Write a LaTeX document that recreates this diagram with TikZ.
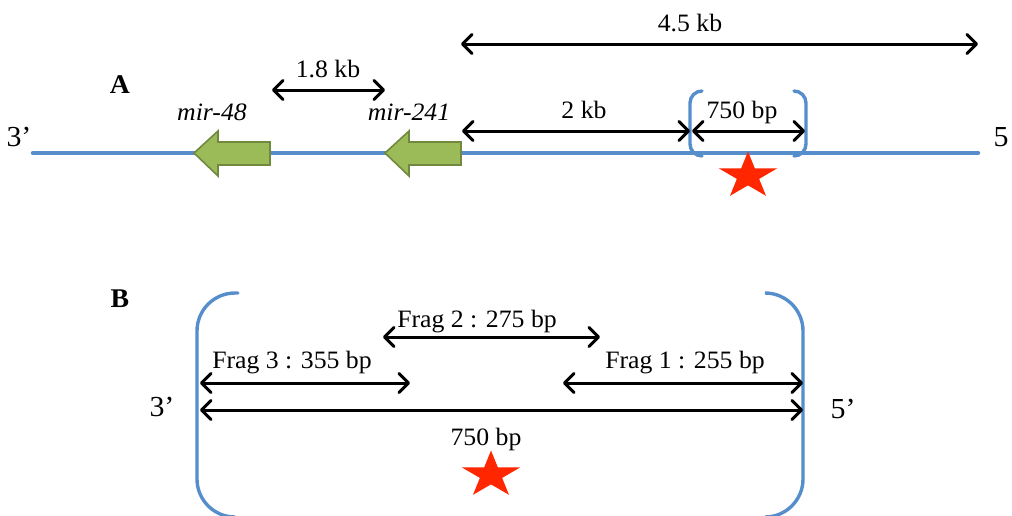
\documentclass[tikz,border=0pt]{standalone}
\usepackage{fontspec}
\setmainfont[FakeStretch=1.03]{Liberation Serif}
\usetikzlibrary{arrows.meta,shapes.geometric}
\definecolor{dnablue}{RGB}{86,142,204}
\definecolor{mirgreen}{RGB}{155,187,89}
\definecolor{mirborder}{RGB}{113,137,62}
\definecolor{starred}{RGB}{255,38,0}
\begin{document}
\begin{tikzpicture}[x=1pt,y=-1pt,
  dimarrow/.style={line width=3pt,
    {Straight Barb[length=9.5pt,width=19pt,round]}-{Straight Barb[length=9.5pt,width=19pt,round]}},
  lbl/.style={anchor=base, inner sep=0pt, font=\fontsize{25}{29}\selectfont},
  mirlbl/.style={anchor=base, inner sep=0pt, font=\fontsize{25}{29}\selectfont\itshape},
  strandlbl/.style={anchor=base, inner sep=0pt, font=\fontsize{29}{33}\selectfont},
  panellbl/.style={anchor=base, inner sep=0pt, font=\fontsize{27}{31}\selectfont\bfseries},
  strand/.style={line width=4.5pt, draw=dnablue, line cap=round},
  bracketsmall/.style={line width=3.4pt, draw=dnablue, rounded corners=12pt, line cap=round},
  bracketbig/.style={line width=3.4pt, draw=dnablue, rounded corners=38pt, line cap=round},
  mirarrow/.style={fill=mirgreen, draw=mirborder, line width=1.6pt, line join=miter},
  starmark/.style={star, star points=5, star point ratio=2.618, minimum size=49pt,
    inner sep=0pt, fill=starred, draw=none, transform shape}
]
\useasboundingbox (0,0) rectangle (1012,515);

% ---------------- Panel A ----------------
\node[panellbl] (labA) at (120,93) {A};

\coordinate (s3) at (33,153);
\coordinate (s5) at (978,153);
\draw[strand] (s3) -- (s5);
\node[strandlbl] (p3A) at (19,146) {3’};
\node[strandlbl] (p5A) at (1001,146) {5};

% mir genes
\draw[mirarrow] (194,153) -- (218,131) -- (218,142) -- (270,142) -- (270,165)
  -- (218,165) -- (218,176) -- cycle;
\draw[mirarrow] (385,153) -- (409,131) -- (409,142) -- (461,142) -- (461,165)
  -- (409,165) -- (409,176) -- cycle;
\node[mirlbl] (m48) at (212,120) {mir-48};
\node[mirlbl] (m241) at (409,120) {mir-241};

% bracket around 750 bp region
\draw[bracketsmall] (702,91) -- (690,91) -- (690,156) -- (702,156);
\draw[bracketsmall] (794,91) -- (806,91) -- (806,156) -- (794,156);

% distance arrows
\coordinate (a45l) at (461,44);  \coordinate (a45r) at (978,44);
\draw[dimarrow] (a45l) -- (a45r);
\node[lbl] (t45) at (690,31) {4.5 kb};

\coordinate (a18l) at (272,90);  \coordinate (a18r) at (385,90);
\draw[dimarrow] (a18l) -- (a18r);
\node[lbl] (t18) at (328,77) {1.8 kb};

\coordinate (a2l) at (462,131);  \coordinate (a2r) at (690,131);
\draw[dimarrow] (a2l) -- (a2r);
\node[lbl] (t2) at (584,118) {2 kb};

\coordinate (a750l) at (692,131);  \coordinate (a750r) at (805,131);
\draw[dimarrow] (a750l) -- (a750r);
\node[lbl] (t750A) at (742,118) {750 bp};

\begin{scope}[shift={(748,176)}, xscale=1.25]
  \node[starmark] (starA) at (0,0) {};
\end{scope}

% ---------------- Panel B ----------------
\node[panellbl] (labB) at (120,307) {B};

\draw[bracketbig] (238,293) -- (197,293) -- (197,517) -- (235,517);
\draw[bracketbig] (766,293) -- (803,293) -- (803,517) -- (779,517);

\node[strandlbl] (p3B) at (162,416) {3’};
\node[strandlbl] (p5B) at (843,418) {5’};

\coordinate (f2l) at (383,337);  \coordinate (f2r) at (600,337);
\draw[dimarrow] (f2l) -- (f2r);
\node[lbl] (tf2) at (477,327) {Frag 2 : 275 bp};

\coordinate (f3l) at (200,383);  \coordinate (f3r) at (410,383);
\draw[dimarrow] (f3l) -- (f3r);
\node[lbl] (tf3) at (292,368) {Frag 3 : 355 bp};

\coordinate (f1l) at (563,383);  \coordinate (f1r) at (803,383);
\draw[dimarrow] (f1l) -- (f1r);
\node[lbl] (tf1) at (685,368) {Frag 1 : 255 bp};

\coordinate (bl) at (200,410);  \coordinate (br) at (803,410);
\draw[dimarrow] (bl) -- (br);
\node[lbl] (t750B) at (486,445) {750 bp};

\begin{scope}[shift={(491,475)}, xscale=1.25]
  \node[starmark] (starB) at (0,0) {};
\end{scope}
\end{tikzpicture}
\end{document}
